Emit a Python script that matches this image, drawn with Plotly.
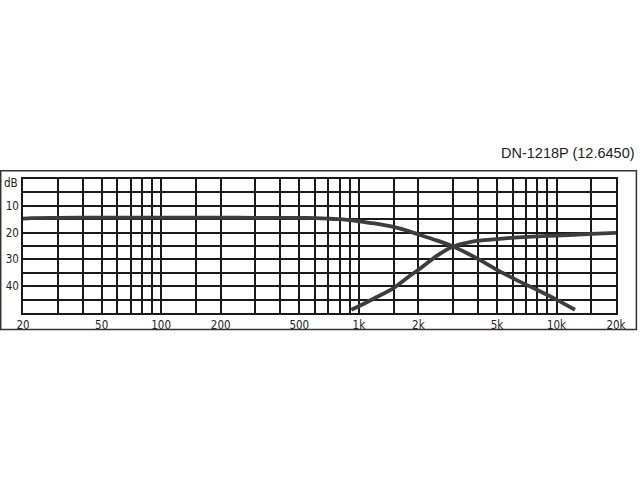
import plotly.graph_objects as go

# crossover response
freq_lp = [20, 22, 30, 50, 100, 200, 300, 500, 600, 700, 800, 1000, 1200, 1500, 1800, 2000, 2500, 3000, 4000, 5000, 6400, 8000, 10000, 12400]
lp_db = [14.8, 14.6, 14.5, 14.4, 14.4, 14.4, 14.5, 14.5, 14.6, 14.8, 15.0, 15.8, 16.6, 17.9, 19.5, 20.7, 23.0, 25.2, 29.8, 33.9, 38.0, 41.4, 45.0, 48.8]

freq_hp = [916, 1000, 1200, 1500, 1800, 2000, 2500, 3000, 3500, 4000, 5000, 6400, 8000, 10000, 15000, 20000]
hp_db = [48.8, 47.5, 44.5, 40.7, 36.3, 33.9, 28.5, 25.2, 23.8, 23.0, 22.4, 21.8, 21.4, 21.1, 20.5, 20.1]

# grid positions and labels
x_grid = [20, 30, 40, 50, 60, 70, 80, 90, 100, 150, 200, 300, 400, 500, 600, 700, 800, 900,
          1000, 1500, 2000, 3000, 4000, 5000, 6000, 7000, 8000, 9000, 10000, 15000, 20000]
x_labels = {20: "20", 50: "50", 100: "100", 200: "200", 500: "500", 1000: "1k",
            2000: "2k", 5000: "5k", 10000: "10k", 20000: "20k"}
y_grid = [0, 5, 10, 15, 20, 25, 30, 35, 40, 45, 50]
y_labels = {10: "10", 20: "20", 30: "30", 40: "40"}
title = "DN-1218P (12.6450)"

curve_col = "#3d3d3d"
grid_col = "#1a1a1a"
tick_font = dict(family="DejaVu Sans Condensed, DejaVu Sans", size=11.5, color="#222222")

fig = go.Figure()
fig.add_trace(go.Scatter(x=freq_lp, y=lp_db, mode="lines",
                         line=dict(color=curve_col, width=3.8, shape="spline", smoothing=0.6),
                         hoverinfo="skip"))
fig.add_trace(go.Scatter(x=freq_hp, y=hp_db, mode="lines",
                         line=dict(color=curve_col, width=3.8, shape="spline", smoothing=0.6),
                         hoverinfo="skip"))

fig.update_xaxes(type="log", range=[1.30103, 4.30103], automargin=False,
                 tickvals=x_grid, ticktext=[x_labels.get(v, "") for v in x_grid],
                 showgrid=True, gridcolor=grid_col, gridwidth=1.6,
                 showline=True, linecolor=grid_col, linewidth=1.6, mirror=True,
                 ticks="", tickfont=tick_font, zeroline=False)
fig.update_yaxes(range=[50, 0], automargin=False,
                 tickvals=y_grid, ticktext=[y_labels.get(v, "") for v in y_grid],
                 showgrid=True, gridcolor=grid_col, gridwidth=1.6,
                 showline=True, linecolor=grid_col, linewidth=1.6, mirror=True,
                 ticks="", tickfont=tick_font, zeroline=False)

# outer frame around the whole chart
fig.add_shape(type="rect", xref="paper", yref="paper",
              x0=-0.0376, x1=1.0344, y0=-0.124, y1=1.0618,
              line=dict(color="#333333", width=1.5))

fig.add_annotation(text="dB", xref="paper", yref="y", x=0, y=1.5,
                   xanchor="right", yanchor="middle", xshift=-3,
                   showarrow=False, font=tick_font)
fig.add_annotation(text=title, xref="paper", yref="paper", x=1.035, y=1.1936,
                   xanchor="right", yanchor="middle", showarrow=False,
                   font=dict(family="Liberation Sans, Arial", size=14.5, color="#222222"))

fig.update_layout(width=640, height=480, showlegend=False,
                  margin=dict(l=23, r=24, t=179, b=167),
                  paper_bgcolor="white", plot_bgcolor="white")

# page body has an 8px default margin, drop it so the chart sits at 0,0
fig.write_html("out.html", config={"displayModeBar": False},
               post_script="document.body.style.margin='0px';")
